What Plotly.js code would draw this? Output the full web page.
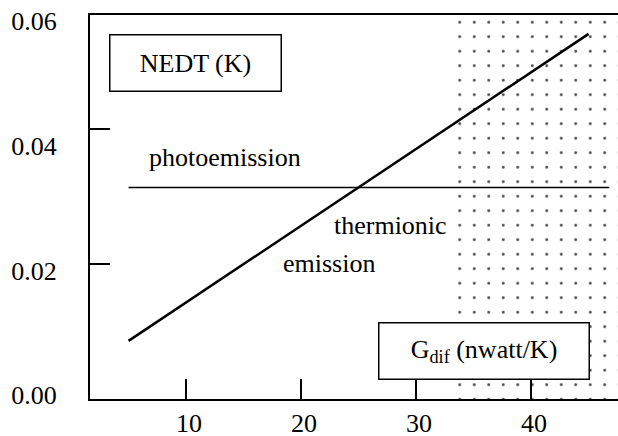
<!DOCTYPE html>
<html>
<head>
<meta charset="utf-8">
<script src="https://cdn.plot.ly/plotly-3.0.1.min.js"></script>
<style>
html, body { margin: 0; padding: 0; overflow: hidden; background: #fff; }
#chart { width: 630px; height: 436px; }
</style>
</head>
<body>
<div id="chart"></div>
<script>
// ---- data ----
const photoX = [5, 46.8];
const photoY = [0.0333, 0.0333];
const thermX = [5, 45];
const thermY = [0.0087, 0.0579];
const shadeStart = 33.2;
const shadeEnd = 50;
const shadeTop = 0.062;
const shadeBase = -0.001;
const xTickVals = [10, 20, 30, 40];
const xTickText = ['10', '20', '30', '40'];
const yLabelVals = [0, 0.02, 0.04, 0.06];
const yLabelText = ['0.00', '0.02', '0.04', '0.06'];
const yTickMarkVals = [0.02, 0.04];

const FONT = 'Liberation Serif';

const traces = [
  {
    type: 'bar',
    x: [(shadeStart + shadeEnd) / 2],
    width: [shadeEnd - shadeStart],
    y: [shadeTop - shadeBase],
    base: [shadeBase],
    marker: {
      color: 'white',
      line: { width: 0 },
      pattern: { shape: '.', fgcolor: '#444', bgcolor: 'white', size: 14.5, solidity: 0.03, fillmode: 'replace' }
    },
    hoverinfo: 'skip',
    showlegend: false
  },
  {
    type: 'scatter', mode: 'lines',
    x: photoX, y: photoY,
    line: { color: 'black', width: 1.5 },
    hoverinfo: 'skip', showlegend: false
  },
  {
    type: 'scatter', mode: 'lines',
    x: thermX, y: thermY,
    line: { color: 'black', width: 2.5 },
    hoverinfo: 'skip', showlegend: false
  },
  {
    type: 'scatter', mode: 'markers',
    x: [null], y: [null], yaxis: 'y2',
    hoverinfo: 'skip', showlegend: false
  }
];

const layout = {
  width: 630, height: 436,
  margin: { l: 90, r: 0, t: 15, b: 37 },
  paper_bgcolor: 'white', plot_bgcolor: 'white',
  font: { family: FONT, size: 26, color: 'black' },
  showlegend: false,
  bargap: 0,
  xaxis: {
    range: [1.65, 48.6],
    tickvals: xTickVals, ticktext: xTickText,
    ticks: 'inside', ticklen: 20, tickwidth: 2, tickcolor: 'black',
    showline: true, linewidth: 2, linecolor: 'black', mirror: true,
    showgrid: false, zeroline: false,
    tickfont: { family: FONT, size: 26, color: 'black' },
    ticklabelstandoff: 0, ticklabelshift: 3,
    fixedrange: true
  },
  yaxis: {
    range: [-0.00061, 0.06093],
    tickvals: yLabelVals, ticktext: yLabelText,
    ticks: '', showline: true, linewidth: 2, linecolor: 'black',
    showgrid: false, zeroline: false,
    tickfont: { family: FONT, size: 26, color: 'black' },
    ticklabelstandoff: 26,
    fixedrange: true
  },
  yaxis2: {
    overlaying: 'y', side: 'left', anchor: 'x',
    range: [0, 0.0569],
    tickvals: yTickMarkVals,
    ticks: 'inside', ticklen: 20, tickwidth: 2, tickcolor: 'black',
    showticklabels: false, showline: false, showgrid: false, zeroline: false,
    fixedrange: true
  },
  annotations: [
    {
      xref: 'paper', yref: 'paper', x: 0.1954, y: 0.8763,
      xanchor: 'center', yanchor: 'middle',
      text: 'NEDT (K)', showarrow: false,
      width: 170, height: 55, borderpad: 0,
      bordercolor: 'black', borderwidth: 1.5, bgcolor: 'white',
      font: { family: FONT, size: 26, color: 'black' }
    },
    {
      xref: 'paper', yref: 'paper', x: 0.7293, y: 0.1255,
      xanchor: 'center', yanchor: 'middle',
      text: 'G<sub>dif</sub> (nwatt/K)', showarrow: false,
      width: 209, height: 55, borderpad: 0,
      bordercolor: 'black', borderwidth: 1.5, bgcolor: 'white',
      font: { family: FONT, size: 26, color: 'black' }
    },
    {
      xref: 'paper', yref: 'paper', x: 0.25, y: 0.628,
      xanchor: 'center', yanchor: 'middle',
      text: 'photoemission', showarrow: false,
      font: { family: FONT, size: 26, color: 'black' }
    },
    {
      xref: 'paper', yref: 'paper', x: 0.6648, y: 0.453,
      xanchor: 'right', yanchor: 'middle',
      text: 'thermionic', showarrow: false,
      font: { family: FONT, size: 26, color: 'black' }
    },
    {
      xref: 'paper', yref: 'paper', x: 0.4426, y: 0.354,
      xanchor: 'center', yanchor: 'middle',
      text: 'emission', showarrow: false,
      font: { family: FONT, size: 26, color: 'black' }
    }
  ]
};

Plotly.newPlot('chart', traces, layout, { displayModeBar: false, staticPlot: true });
</script>
</body>
</html>
